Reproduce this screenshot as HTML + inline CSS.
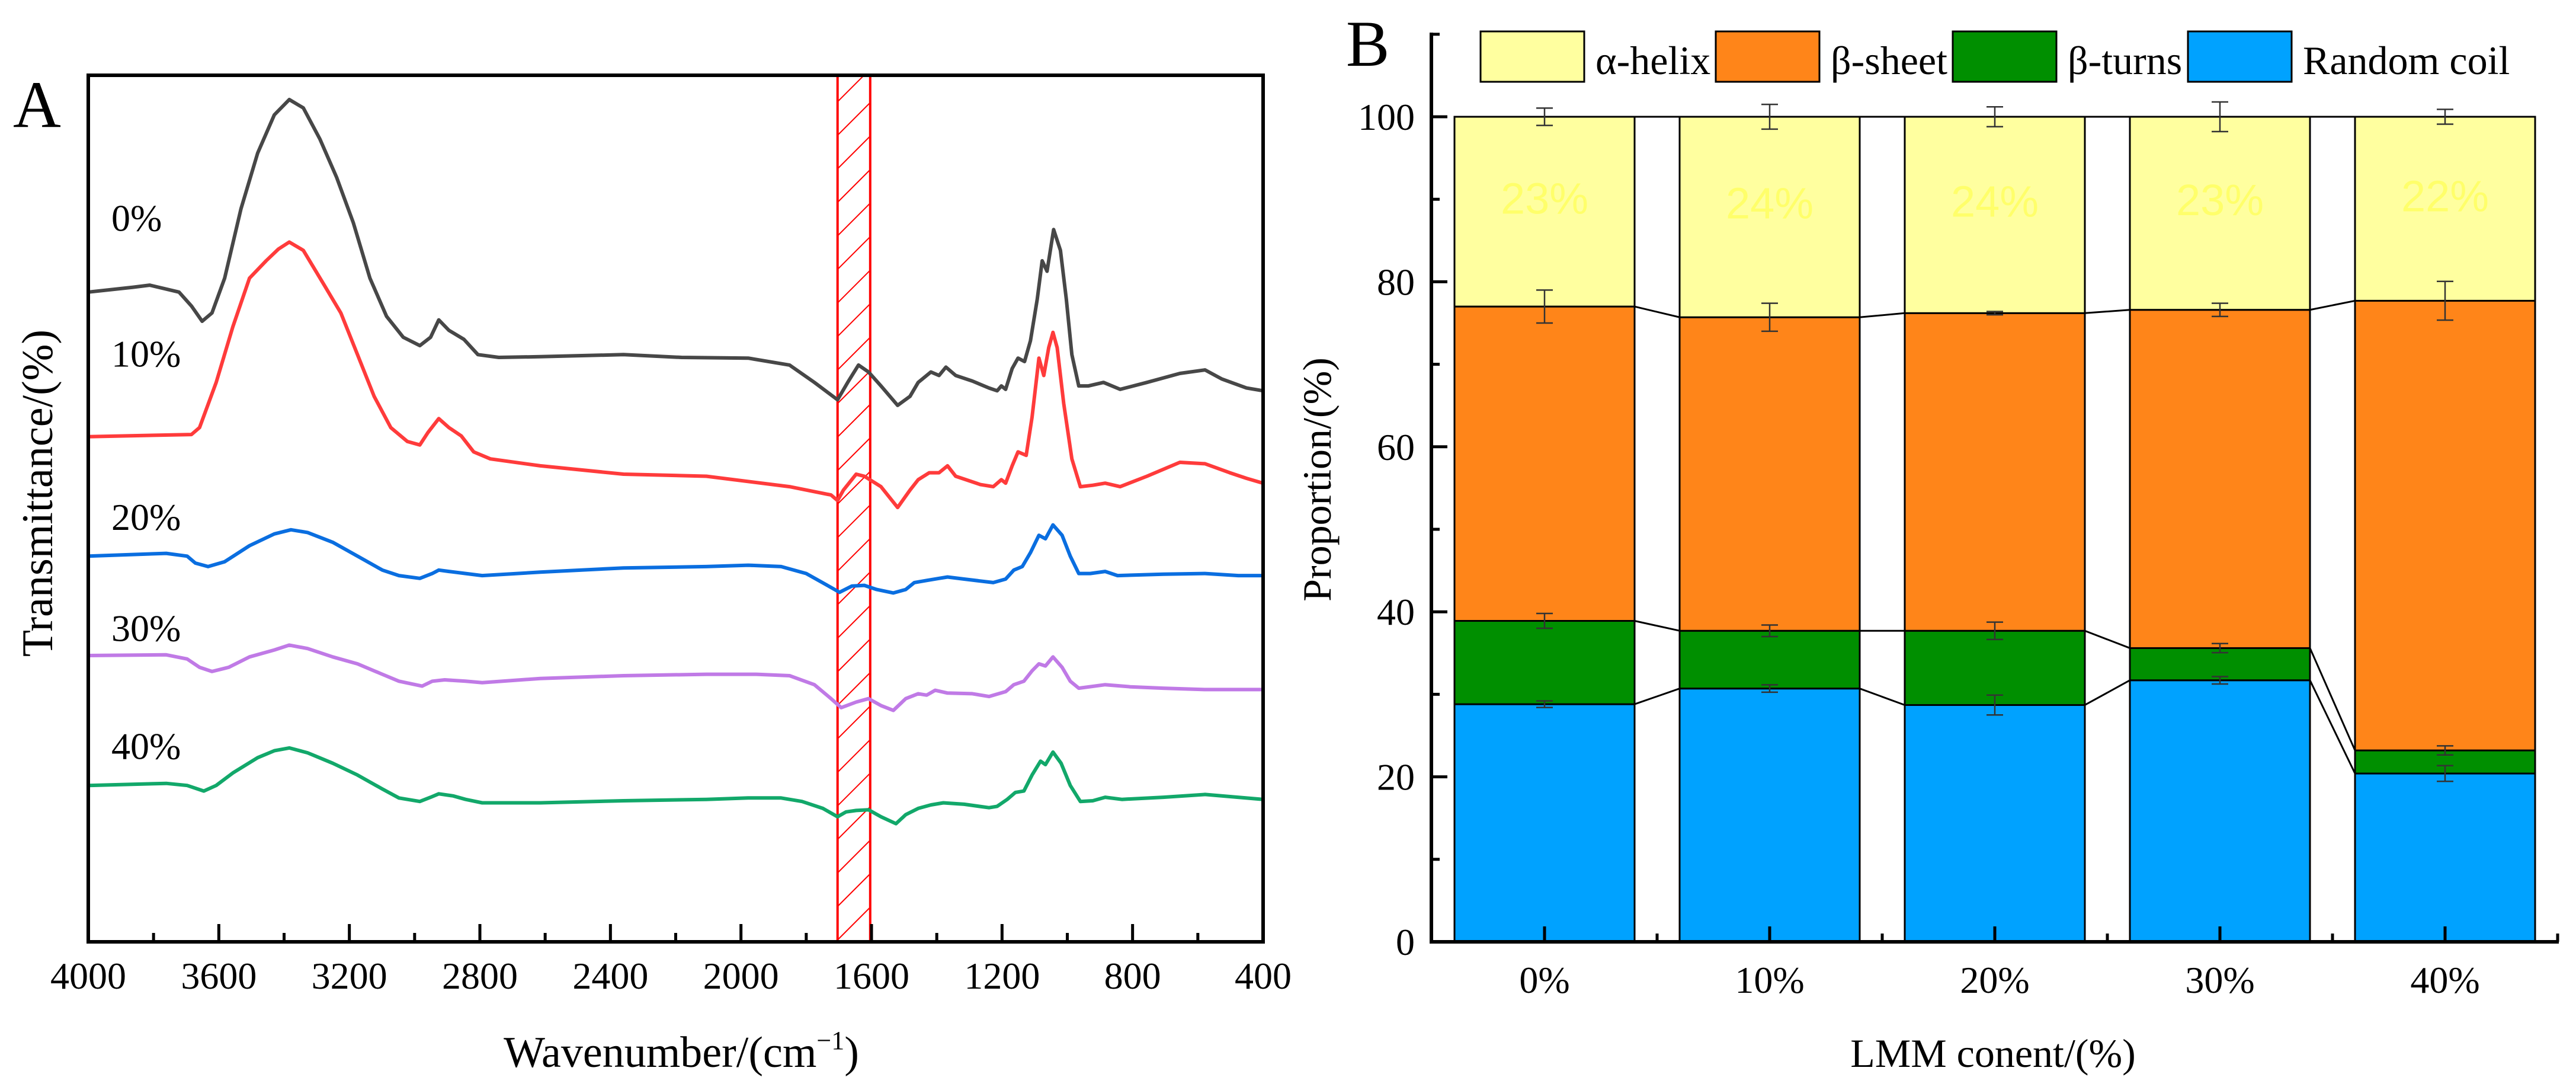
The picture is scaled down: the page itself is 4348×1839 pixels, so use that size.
<!DOCTYPE html>
<html><head><meta charset="utf-8"><style>
html,body{margin:0;padding:0;background:#fff;}
svg{display:block;font-family:"Liberation Serif","DejaVu Serif",serif;}
svg text{font-family:"Liberation Serif","DejaVu Serif",serif;fill:#000;}
svg text.sans{font-family:"Liberation Sans","DejaVu Sans",sans-serif;}
</style></head><body>
<svg id="fig" xmlns="http://www.w3.org/2000/svg" width="4348" height="1839" viewBox="0 0 4348 1839" font-family="Liberation Serif, serif">
<defs>
<pattern id="hatch" patternUnits="userSpaceOnUse" width="40" height="40" patternTransform="rotate(45)">
<line x1="0" y1="0" x2="0" y2="40" stroke="#ff0000" stroke-width="4"/>
</pattern>
</defs>
<g id="panelA"></g>
<g id="panelB"></g>
</svg>
<script>
// ---------- Panel A data ----------
const wnTicks = [4000,3600,3200,2800,2400,2000,1600,1200,800,400];
const seriesNames = ["0%","10%","20%","30%","40%"];
const seriesColors = ["#474747","#ff3b3b","#0a6ee0","#c07ae6","#12a86a"];
const labelLevels = [104, 84.5, 61, 45, 28];
const hatchRange = [1704, 1604];

const wn0 = [4000,3863,3812,3722,3684,3651,3621,3582,3532,3481,3430,3384,3341,3290,3239,3188,3137,3086,3035,2984,2951,2926,2895,2849,2806,2742,2615,2360,2182,1978,1851,1775,1704,1673,1640,1609,1571,1520,1482,1457,1418,1393,1372,1342,1291,1240,1215,1202,1189,1169,1151,1131,1113,1092,1077,1062,1042,1021,1003,986,965,935,889,838,756,655,578,527,451,400];
const v0 = [93.5,94.2,94.5,93.5,91.5,89.3,90.5,95.5,105.5,113.5,119,121.2,120,115.5,110,103.5,95.5,90,87,85.8,87,89.5,88,86.7,84.5,84.1,84.2,84.5,84.1,84,83,80.5,78,80.5,83,82,80,77.2,78.5,80.5,82,81.5,82.7,81.5,80.7,79.7,79.3,80,79.5,82.5,84,83.5,86.5,92.5,98,96.5,102.5,99.5,92.5,84.5,80,80,80.5,79.5,80.5,81.8,82.3,81,79.7,79.3];

const wn1 = [4000,3684,3659,3608,3557,3506,3455,3417,3384,3341,3277,3226,3175,3124,3073,3022,2984,2959,2926,2895,2857,2819,2768,2615,2360,2106,1851,1724,1704,1686,1647,1622,1571,1520,1482,1457,1423,1393,1367,1342,1266,1227,1202,1189,1169,1151,1126,1108,1087,1072,1057,1044,1031,1011,986,960,922,884,838,756,655,578,502,451,400];
const v1 = [72.7,73,74,80.5,88.5,95.5,98,99.7,100.7,99.5,94.5,90.5,84.5,78.5,74,72,71.5,73.3,75.3,74,72.8,70.5,69.5,68.5,67.3,67,65.5,64.3,63.5,65,67.3,67,65.5,62.5,65,66.5,67.5,67.5,68.5,67,65.8,65.5,66.5,66,68.5,70.5,70,75.5,84,81.5,85.5,87.7,85.5,77.5,69.5,65.5,65.7,66,65.5,67,69,68.8,67.5,66.7,66];

const wn2 = [4000,3761,3697,3672,3633,3582,3506,3430,3379,3328,3251,3175,3099,3048,2984,2946,2926,2895,2844,2793,2615,2360,2106,1978,1877,1800,1724,1698,1660,1622,1584,1533,1495,1469,1431,1393,1367,1316,1227,1189,1164,1138,1113,1087,1067,1044,1016,991,965,930,884,846,706,578,476,400];
const v2 = [55.5,55.9,55.5,54.5,54,54.7,57,58.7,59.3,58.9,57.5,55.5,53.5,52.7,52.3,53,53.5,53.3,53,52.7,53.2,53.8,54,54.2,54,53,51,50.3,51.2,51.3,50.7,50.2,50.7,51.7,52,52.3,52.5,52.2,51.7,52.2,53.5,54,56,58.5,58,60,58.5,55.5,53,53,53.3,52.7,52.9,53,52.7,52.7];

const wn3 = [4000,3761,3697,3659,3621,3570,3506,3430,3384,3328,3251,3175,3099,3048,2977,2946,2908,2844,2793,2615,2360,2106,1953,1851,1775,1724,1693,1647,1609,1571,1533,1495,1457,1431,1405,1367,1291,1240,1189,1164,1133,1108,1087,1067,1044,1016,991,965,884,807,706,578,400];
const v3 = [41.2,41.3,40.7,39.5,38.9,39.5,41,42,42.7,42.2,41,40,38.5,37.5,36.8,37.5,37.7,37.5,37.3,37.9,38.3,38.5,38.5,38.3,37,35,33.7,34.5,35,34,33.3,35,35.7,35.5,36.2,35.8,35.7,35.3,36,37,37.5,39,40,39.7,41,39.5,37.5,36.5,37,36.7,36.5,36.3,36.3];

const wn4 = [4000,3761,3697,3646,3608,3557,3481,3430,3384,3328,3251,3175,3099,3048,2984,2951,2926,2882,2844,2793,2615,2360,2106,1978,1877,1813,1749,1704,1678,1647,1609,1571,1525,1495,1457,1418,1380,1316,1240,1215,1184,1159,1133,1108,1082,1067,1044,1019,991,960,922,884,833,706,578,400];
const v4 = [22.5,22.8,22.5,21.7,22.5,24.3,26.5,27.5,27.9,27.2,25.7,24,22,20.7,20.2,20.8,21.3,21,20.5,20,20,20.3,20.5,20.7,20.7,20.2,19.2,18,18.7,18.9,19,18,17,18.3,19.2,19.7,20,19.8,19.3,19.5,20.5,21.5,21.7,24,26,25.5,27.3,25.7,22.5,20.2,20.3,20.8,20.5,20.8,21.2,20.5];

const allWn = [wn0,wn1,wn2,wn3,wn4];
const allV = [v0,v1,v2,v3,v4];

// ---------- Panel B data ----------
const groups = ["0%","10%","20%","30%","40%"];
const coil = [28.8,30.7,28.7,31.7,20.4];
const turns = [10.1,7.0,9.0,3.9,2.8];
const sheet = [38.1,38.0,38.5,41.0,54.5];
const helix = [23.0,24.3,23.8,23.4,22.3];
const errCoil = [0.4,0.45,1.2,0.45,0.95];
const errTurns = [0.9,0.7,1.05,0.55,0.55];
const errSheet = [2.0,1.7,0.2,0.8,2.35];
const errHelix = [1.05,1.5,1.2,1.8,0.9];
const helixLabels = ["23%","24%","24%","23%","22%"];
const yTicksB = [0,20,40,60,80,100];
const legendNames = ["α-helix","β-sheet","β-turns","Random coil"];
const legendColors = ["#ffff9f","#ff8519","#008f00","#00a2ff"];

const NS = "http://www.w3.org/2000/svg";
const SERIF = "Liberation Serif, DejaVu Serif, serif";
function mk(tag, attrs, parent){ const e=document.createElementNS(NS,tag); for(const k in attrs) e.setAttribute(k,attrs[k]); if(tag==='text' && !attrs['font-family']) e.setAttribute('font-family',SERIF); parent.appendChild(e); return e; }

// ---------- Panel A ----------
(function(){
  const g = document.getElementById('panelA');
  const L=149,R=2132,T=127,B=1589;
  const x = w => L + (4000-w)/3600*(R-L);
  const y = v => B - v/124.7*(B-T);
  const hr = mk('rect',{x:x(hatchRange[0]),y:T,width:x(hatchRange[1])-x(hatchRange[0]),height:B-T,fill:'url(#hatch)',stroke:'#ff0000','stroke-width':4},g);
  
  
  for(let s=0;s<5;s++){
    let d='';
    allWn[s].forEach((w,i)=>{ d += (i?'L':'M')+x(w).toFixed(1)+' '+y(allV[s][i]).toFixed(1); });
    const p = mk('path',{d:d,fill:'none',stroke:seriesColors[s],'stroke-width':6,'stroke-linejoin':'round'},g);
    
    
    const t = mk('text',{x:188,y:y(labelLevels[s])+20,'font-size':64},g);
    t.textContent = seriesNames[s];
    
    
  }
  const fr = mk('rect',{x:L,y:T,width:R-L,height:B-T,fill:'none',stroke:'#000','stroke-width':6},g);
  
  
  for(let w=4000; w>=400; w-=200){
    const major = (w%400===0);
    const tk = mk('line',{x1:x(w),x2:x(w),y1:B,y2:B-(major?30:15),stroke:'#000','stroke-width':5},g);
    
    
  }
  wnTicks.forEach(w=>{
    const t = mk('text',{x:x(w),y:1668,'font-size':64,'text-anchor':'middle'},g);
    t.textContent = w;
    
    
  });
  const xt = mk('text',{x:1150,y:1800,'font-size':74,'text-anchor':'middle'},g);
  xt.innerHTML = 'Wavenumber/(cm<tspan dy="-30" font-size="44">−1</tspan><tspan dy="30">)</tspan>';
  
  
  const yt = mk('text',{x:0,y:0,'font-size':74,'text-anchor':'middle',transform:'translate(88,832) rotate(-90)'},g);
  yt.textContent = 'Transmittance/(%)';
  
  
  const pl = mk('text',{x:22,y:214,'font-size':112},g);
  pl.textContent = 'A';
  
  
})();

// ---------- Panel B ----------
(function(){
  const g = document.getElementById('panelB');
  const L=2416,R=4319,B=1589,T=55;
  const y = v => B - v*(1589-197)/100;
  const cx = i => 2607 + i*380;
  const bw = 304;
  const stacks = [coil,turns,sheet,helix];
  const errs = [errCoil,errTurns,errSheet,errHelix];
  const cum = groups.map((_,i)=>{ let c=0; return stacks.map(s=>{ c+=s[i]; return c; }); });
  for(let i=0;i<groups.length-1;i++){
    for(let k=0;k<4;k++){
      const ln = mk('line',{x1:cx(i)+bw/2,y1:y(cum[i][k]),x2:cx(i+1)-bw/2,y2:y(cum[i+1][k]),stroke:'#000','stroke-width':3},g);
      
      
    }
  }
  const segNames = ['random-coil','beta-turns','beta-sheet','alpha-helix'];
  groups.forEach((gname,i)=>{
    let base = 0;
    for(let k=0;k<4;k++){
      const top = cum[i][k];
      const r = mk('rect',{x:cx(i)-bw/2,y:y(top),width:bw,height:y(base)-y(top),fill:legendColors[[3,2,1,0][k]],stroke:'#000','stroke-width':3},g);
      
      
      base = top;
    }
    for(let k=0;k<4;k++){
      const top = cum[i][k], e = errs[k][i];
      const eb = mk('path',{d:`M${cx(i)} ${y(top+e)}V${y(top-e)}M${cx(i)-14} ${y(top+e)}H${cx(i)+14}M${cx(i)-14} ${y(top-e)}H${cx(i)+14}`,stroke:'#333',fill:'none','stroke-width':2.5},g);
      
      
    }
    const lab = mk('text',{x:cx(i),y:y(cum[i][2]+(cum[i][3]-cum[i][2])*0.57)+26,'font-size':74,'text-anchor':'middle',class:'sans','font-family':'Liberation Sans, DejaVu Sans, sans-serif',style:'fill:#ffff6a'},g);
    lab.textContent = helixLabels[i];
    
    
    const xl = mk('text',{x:cx(i),y:1675,'font-size':64,'text-anchor':'middle'},g);
    xl.textContent = gname;
    
    
  });
  const ax = mk('path',{d:`M${L} ${T}V${B}H${R}`,stroke:'#000','stroke-width':6,fill:'none'},g);
  
  
  for(let v=0; v<=110; v+=10){
    const major = (v%20===0);
    const tk = mk('line',{x1:L,x2:L+(major?27:14),y1:y(v),y2:y(v),stroke:'#000','stroke-width':5},g);
    
    
  }
  yTicksB.forEach(v=>{
    const t = mk('text',{x:2388,y:y(v)+22,'font-size':64,'text-anchor':'end'},g);
    t.textContent = v;
    
    
  });
  for(let i=0;i<groups.length;i++){
    const tk = mk('line',{x1:cx(i),x2:cx(i),y1:B,y2:B-26,stroke:'#000','stroke-width':5},g);
    
    
    const mx = cx(i)+190;
    const tm = mk('line',{x1:mx,x2:mx,y1:B,y2:B-14,stroke:'#000','stroke-width':5},g);
    
    
  }
  const lx = [2499,2896,3296,3693];
  legendNames.forEach((n,i)=>{
    const r = mk('rect',{x:lx[i],y:53,width:175,height:85,fill:legendColors[i],stroke:'#000','stroke-width':3},g);
    
    
    const t = mk('text',{x:lx[i]+194,y:125,'font-size':68},g);
    t.textContent = n;
    
    
  });
  const xt = mk('text',{x:3364,y:1800,'font-size':68,'text-anchor':'middle'},g);
  xt.textContent = 'LMM conent/(%)';
  
  
  const yt = mk('text',{x:0,y:0,'font-size':68,'text-anchor':'middle',transform:'translate(2246,809) rotate(-90)'},g);
  yt.textContent = 'Proportion/(%)';
  
  
  const pl = mk('text',{x:2272,y:111,'font-size':110},g);
  pl.textContent = 'B';
  
  
})();
</script>
</body></html>
